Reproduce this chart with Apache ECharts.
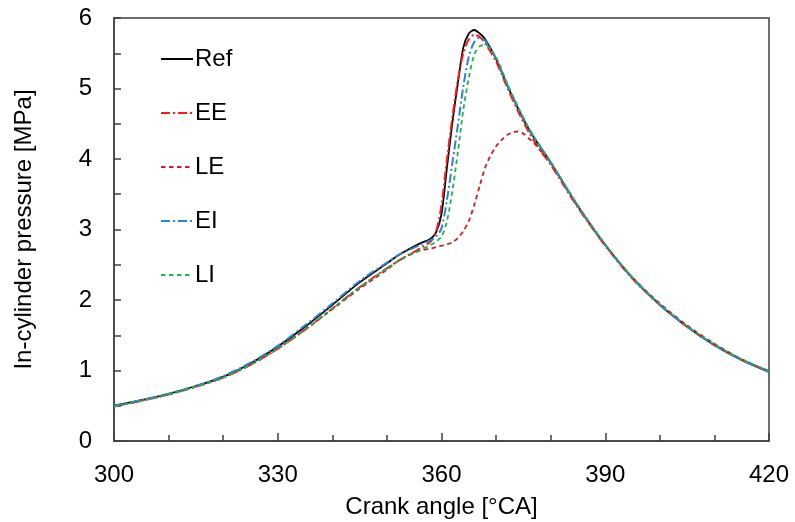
<!DOCTYPE html>
<html>
<head>
<meta charset="utf-8">
<script src="https://cdn.jsdelivr.net/npm/echarts@6/dist/echarts.min.js"></script>
<style>html,body{margin:0;padding:0;background:#fff}#c{width:795px;height:522px}</style>
</head>
<body>
<div id="c"></div>
<script>
// Crank angles [°CA]
const angles = [300,305,310,315,320,325,330,335,340,345,350,352,354,356,358,359,360,361,362,363,364,365,366,367,368,370,372,374,376,378,380,385,390,395,400,405,410,415,420];
const anglesLE = [300,305,310,315,320,325,330,335,340,345,350,352,354,356,358,359,360,361,362,363,364,365,366,367,368,369,370,371,372,373,374,375,376,377,378,379,380,385,390,395,400,405,410,415,420];

// In-cylinder pressure [MPa]
const ref = [0.50,0.58,0.67,0.78,0.91,1.10,1.34,1.62,1.93,2.25,2.52,2.63,2.72,2.80,2.87,2.96,3.22,3.88,4.52,5.08,5.58,5.78,5.83,5.78,5.70,5.42,5.05,4.72,4.42,4.18,3.95,3.33,2.78,2.31,1.93,1.62,1.36,1.15,0.98];
const ee  = [0.49,0.57,0.66,0.77,0.90,1.08,1.31,1.58,1.88,2.18,2.45,2.55,2.64,2.73,2.83,2.97,3.35,4.00,4.60,5.12,5.50,5.70,5.76,5.73,5.64,5.38,5.02,4.68,4.38,4.13,3.92,3.31,2.77,2.30,1.93,1.62,1.36,1.15,0.98];
const le  = [0.49,0.57,0.66,0.77,0.90,1.08,1.31,1.58,1.87,2.16,2.43,2.55,2.64,2.70,2.73,2.75,2.77,2.79,2.82,2.88,2.98,3.12,3.35,3.62,3.88,4.05,4.18,4.27,4.34,4.38,4.39,4.36,4.29,4.22,4.13,4.04,3.94,3.32,2.78,2.32,1.95,1.64,1.38,1.16,0.99];
const ei  = [0.50,0.58,0.67,0.78,0.92,1.11,1.35,1.64,1.95,2.27,2.53,2.63,2.71,2.78,2.85,2.90,3.02,3.42,3.95,4.48,5.03,5.45,5.66,5.72,5.68,5.42,5.06,4.73,4.43,4.18,3.95,3.33,2.78,2.31,1.93,1.62,1.36,1.15,0.98];
const li  = [0.49,0.57,0.66,0.77,0.90,1.08,1.31,1.58,1.88,2.18,2.45,2.55,2.63,2.70,2.78,2.83,2.90,3.12,3.55,4.10,4.70,5.15,5.48,5.60,5.62,5.44,5.08,4.74,4.44,4.19,3.96,3.34,2.79,2.32,1.94,1.63,1.37,1.16,0.99];

const xTicks = [300,330,360,390,420];
const yTicks = [0,1,2,3,4,5,6];

const pair = (xs, ys) => xs.map((x, i) => [x, ys[i]]);
const font = 'Liberation Sans, Arial, sans-serif';

const chart = echarts.init(document.getElementById('c'), null, {renderer: 'canvas'});
function mk(name, xs, ys, color, type, width) {
  return {
    name, type: 'line', data: pair(xs, ys), showSymbol: false, symbol: 'none',
    smooth: 0.3, lineStyle: {color, type, width}, itemStyle: {color}, z: 2
  };
}
chart.setOption({
  animation: false,
  backgroundColor: '#fff',
  grid: {left: 114, right: 26, top: 18, bottom: 81, containLabel: false, outerBoundsMode: 'none',
         show: true, borderColor: '#404040', borderWidth: 1.5},
  legend: {
    orient: 'vertical', left: 155, top: 42, itemWidth: 32, itemHeight: 14, itemGap: 30,
    itemStyle: {color: 'rgba(0,0,0,0)', borderWidth: 0, opacity: 0},
    textStyle: {fontFamily: font, fontSize: 24, color: '#000', padding: [0,0,0,-3]},
    data: ['Ref','EE','LE','EI','LI']
  },
  xAxis: {
    type: 'value', min: xTicks[0], max: xTicks[xTicks.length-1], interval: 30,
    name: 'Crank angle [°CA]', nameLocation: 'middle', nameGap: 54,
    nameTextStyle: {fontFamily: font, fontSize: 24, color: '#000'},
    axisLine: {show: true, lineStyle: {color: '#404040', width: 1.5}},
    axisTick: {show: true, inside: true, length: 8, lineStyle: {color: '#404040', width: 1.5}},
    minorTick: {show: true, splitNumber: 3, length: 6, lineStyle: {color: '#404040', width: 1.5}},
    axisLabel: {fontFamily: font, fontSize: 24, color: '#000', margin: 22},
    splitLine: {show: false}
  },
  yAxis: {
    type: 'value', min: yTicks[0], max: yTicks[yTicks.length-1], interval: 1,
    name: 'In-cylinder pressure [MPa]', nameLocation: 'middle', nameGap: 78,
    nameTextStyle: {fontFamily: font, fontSize: 24, color: '#000'},
    axisLine: {show: true, lineStyle: {color: '#404040', width: 1.5}},
    axisTick: {show: true, inside: true, length: 7, lineStyle: {color: '#404040', width: 1.5}},
    minorTick: {show: true, splitNumber: 2, length: 7, lineStyle: {color: '#404040', width: 1.5}},
    axisLabel: {fontFamily: font, fontSize: 24, color: '#000', margin: 22},
    splitLine: {show: false}
  },
  series: [
    mk('Ref', angles, ref, '#000000', 'solid', 1.8),
    mk('EE', angles, ee, '#FF1A1A', [9,3,2,3], 2),
    mk('LE', anglesLE, le, '#C8202A', [4.5,3.5], 1.8),
    mk('EI', angles, ei, '#2A85D0', [9,3,2,3], 2),
    mk('LI', angles, li, '#1FB34F', [4.5,3.5], 1.8)
  ]
});
</script>
</body>
</html>
